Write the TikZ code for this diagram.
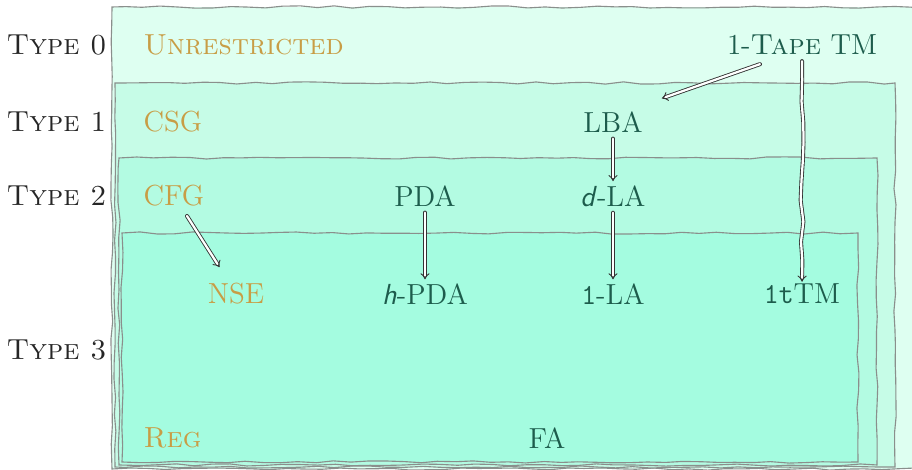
\documentclass[tikz,border=0pt]{standalone}
\usetikzlibrary{decorations.pathmorphing,arrows.meta,calc}
\definecolor{fillzero}{HTML}{DEFFF1}
\definecolor{fillone}{HTML}{C6FCE7}
\definecolor{filltwo}{HTML}{B3FBE2}
\definecolor{fillthree}{HTML}{A4FCE0}
\definecolor{gold}{HTML}{C89D45}
\definecolor{deepteal}{HTML}{1D5C4C}
\definecolor{edgegray}{HTML}{8A8F8C}
\tikzset{
  sketchy/.style={draw=edgegray, line width=0.45pt,
    decorate, decoration={random steps, segment length=7pt, amplitude=0.45pt}},
  typelabel/.style={anchor=east, text=black!85, inner sep=0pt},
  grammar/.style={anchor=west, text=gold, inner sep=0pt},
  machine/.style={text=deepteal, inner sep=1.5pt},
  implies/.style={draw=black!80, line width=0.35pt, double=white, double distance=0.9pt,
    -{Implies}, line cap=round},
  wobbly/.style={decorate, decoration={random steps, segment length=8pt, amplitude=0.6pt}}
}
\begin{document}
\begin{tikzpicture}[x=0.4pt, y=-0.4pt, font=\fontsize{11.6}{14}\selectfont]
\useasboundingbox (0,0) rectangle (912,470);
\pgfmathsetseed{7}
% nested language classes
\fill[fillzero] (112,7) rectangle (930,469);
\draw[sketchy] (930,7) -- (112,7) -- (112,469) -- (930,469);
\path[sketchy, fill=fillone] (115,83) -- (895,83) -- (895,467) -- (115,467) -- cycle;
\path[sketchy, fill=filltwo] (119,158) -- (877,158) -- (877,465) -- (119,465) -- cycle;
\path[sketchy, fill=fillthree] (122,233) -- (858,233) -- (858,462) -- (122,462) -- cycle;

% hierarchy levels
\node[typelabel] (t0) at (107,45) {\textsc{Type 0}};
\node[typelabel] (t1) at (107,122) {\textsc{Type 1}};
\node[typelabel] (t2) at (107,196) {\textsc{Type 2}};
\node[typelabel] (t3) at (107,350) {\textsc{Type 3}};

% grammars
\node[grammar] (unr) at (143,45) {\textsc{Unrestricted}};
\node[grammar] (csg) at (143,122) {CSG};
\node[grammar] (cfg) at (143,196) {CFG};
\node[grammar] (reg) at (143,438) {\textsc{Reg}};
\node[machine, text=gold] (nse) at (236,294) {NSE};

% machines
\node[machine] (tm) at (802,45) {1-\textsc{Tape} TM};
\node[machine] (lba) at (613,122) {LBA};
\node[machine] (pda) at (425,196) {PDA};
\node[machine] (dla) at (613,196) {\textsf{\textit{d}}-LA};
\node[machine] (hpda) at (425,294) {\textsf{\textit{h}}-PDA};
\node[machine] (ola) at (613,294) {\texttt{1}-LA};
\node[machine] (ttm) at (802,294) {\texttt{1t}TM};
\node[machine] (fa) at (547,438) {FA};

% simulations
\draw[implies] ($(tm.south)+(-42,5)$) -- ($(lba.north east)+(15,-9)$);
\draw[implies, wobbly] ($(tm.south)+(0,2)$) -- ($(ttm.north)+(0,2)$);
\draw[implies] ($(lba.south)+(0,2)$) -- (dla.north);
\draw[implies] ($(pda.south)+(0,2)$) -- (hpda.north);
\draw[implies] ($(dla.south)+(0,2)$) -- (ola.north);
\draw[implies] ($(cfg.south west)+(44,9)$) -- ($(nse.north west)+(16,-12)$);
\end{tikzpicture}
\end{document}
